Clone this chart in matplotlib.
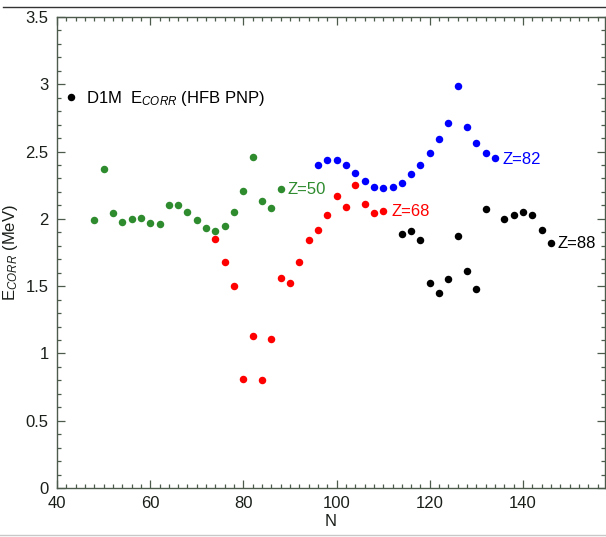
import matplotlib
matplotlib.use("Agg")
import matplotlib.pyplot as plt
from matplotlib.lines import Line2D

plt.rcParams['font.family'] = ['Liberation Sans', 'DejaVu Sans']
plt.rcParams['mathtext.fontset'] = 'custom'
plt.rcParams['mathtext.rm'] = 'Liberation Sans'
plt.rcParams['mathtext.it'] = 'Liberation Sans:italic'

# Z=50 chain
n_z50 = [48, 50, 52, 54, 56, 58, 60, 62, 64, 66, 68, 70, 72, 74, 76, 78, 80, 82, 84, 86, 88]
e_z50 = [1.99, 2.37, 2.04, 1.98, 2.00, 2.01, 1.97, 1.96, 2.10, 2.10, 2.05, 1.99, 1.93, 1.91,
         1.95, 2.05, 2.21, 2.46, 2.13, 2.08, 2.22]

# Z=68 chain
n_z68 = [74, 76, 78, 80, 82, 84, 86, 88, 90, 92, 94, 96, 98, 100, 102, 104, 106, 108, 110]
e_z68 = [1.85, 1.68, 1.50, 0.81, 1.13, 0.80, 1.11, 1.56, 1.52, 1.68, 1.84, 1.92, 2.03, 2.17,
         2.09, 2.25, 2.11, 2.04, 2.06]

# Z=82 chain
n_z82 = [96, 98, 100, 102, 104, 106, 108, 110, 112, 114, 116, 118, 120, 122, 124, 126, 128,
         130, 132, 134]
e_z82 = [2.40, 2.44, 2.44, 2.40, 2.34, 2.28, 2.24, 2.23, 2.24, 2.27, 2.33, 2.40, 2.49, 2.59,
         2.71, 2.99, 2.68, 2.56, 2.49, 2.45]

# Z=88 chain
n_z88 = [114, 116, 118, 120, 122, 124, 126, 128, 130, 132, 136, 138, 140, 142, 144, 146]
e_z88 = [1.89, 1.91, 1.84, 1.52, 1.45, 1.55, 1.87, 1.61, 1.48, 2.07, 2.00, 2.03, 2.05, 2.03,
         1.92, 1.82]

green = '#2e8b2e'
axcol = '#4d5b4d'
fs = 12

fig = plt.figure(figsize=(6.06, 5.37), dpi=100)
ax = fig.add_axes([57 / 606, 49 / 537, 548 / 606, 471 / 537])

ms = 5.4
ax.plot(n_z50, e_z50, 'o', color=green, ms=ms, mec='none')
ax.plot(n_z68, e_z68, 'o', color='#ff0000', ms=ms, mec='none')
ax.plot(n_z82, e_z82, 'o', color='#0000ff', ms=ms, mec='none')
ax.plot(n_z88, e_z88, 'o', color='black', ms=ms, mec='none')

ax.text(89.4, 2.22, 'Z=50', color=green, fontsize=fs, va='center')
ax.text(111.7, 2.055, 'Z=68', color='#ff0000', fontsize=fs, va='center')
ax.text(135.6, 2.44, 'Z=82', color='#0000ff', fontsize=fs, va='center')
ax.text(147.4, 1.815, 'Z=88', color='black', fontsize=fs, va='center')

handle = Line2D([], [], ls='none', marker='o', color='black', ms=ms, mec='none')
ax.legend([handle], ['D1M  E$_{CORR}$ (HFB PNP)'], loc='center left',
          bbox_to_anchor=(-0.005, 0.828), frameon=False, fontsize=fs,
          handletextpad=0.3, handlelength=1.2, borderaxespad=0)

ax.set_xlim(40, 157.6)
ax.set_ylim(0, 3.5)
ax.set_xticks([40, 60, 80, 100, 120, 140])
ax.set_xticks(range(40, 158, 2), minor=True)
ax.set_yticks([0, 0.5, 1, 1.5, 2, 2.5, 3, 3.5])
ax.set_yticks([i / 10 for i in range(36)], minor=True)
ax.set_yticklabels(['0', '0.5', '1', '1.5', '2', '2.5', '3', '3.5'])

ax.tick_params(which='both', direction='in', top=True, right=True, color=axcol,
               labelsize=fs, labelcolor='#1a1f1a', width=0.9)
ax.tick_params(which='major', length=5.5, pad=6)
ax.tick_params(which='minor', length=2.8)
for s in ax.spines.values():
    s.set_color(axcol)
    s.set_linewidth(1.0)

ax.set_xlabel('N', fontsize=fs, labelpad=2, color='#1a1f1a')
ax.set_ylabel('E$_{CORR}$ (MeV)', fontsize=fs, labelpad=4, color='#1a1f1a')

fig.add_artist(Line2D([0.005, 1.0], [1 - 7 / 537, 1 - 7 / 537], color='#333333', lw=1.0))
fig.add_artist(Line2D([0.0, 1.0], [2 / 537, 2 / 537], color='#c8c8c8', lw=1.0))

fig.savefig('out.png', dpi=100)
